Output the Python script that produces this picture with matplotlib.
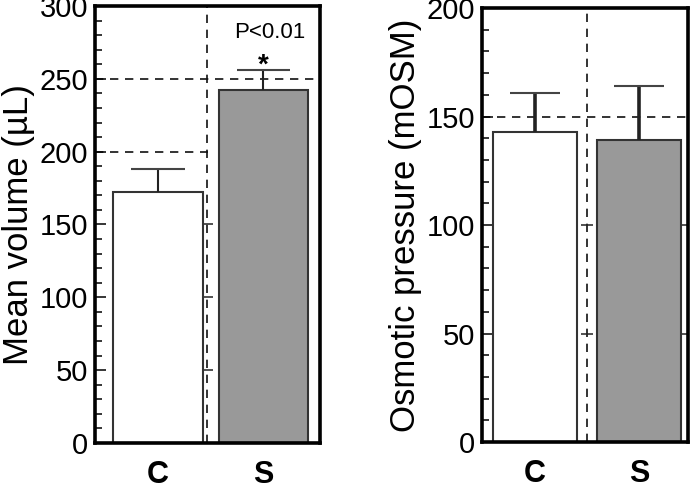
import matplotlib.pyplot as plt
from matplotlib.ticker import MultipleLocator

plt.rcParams['font.family'] = ['Liberation Sans', 'DejaVu Sans']

groups = ['C', 'S']
volume_mean = [172, 242]
volume_err = [16, 14]
osm_mean = [143, 139]
osm_err = [18, 25]
bar_colors = ['white', '#999999']


def panel(ax, means, errs, ylim, ymaj, grid_ys, xlim, vline_x, width, err_lw, ylabel):
    x = [1, 2]
    ax.bar(x, means, width=width, color=bar_colors, edgecolor='#333333',
           linewidth=1.5, zorder=2)
    ax.errorbar(x, means, yerr=[[0, 0], errs], fmt='none', ecolor='#222222',
                elinewidth=err_lw, capsize=0, zorder=3)
    # caps drawn separately (thinner, grey)
    ax.errorbar(x, [m + e for m, e in zip(means, errs)], xerr=width * 0.3,
                fmt='none', ecolor='#444444', elinewidth=1.5, zorder=3)
    for gy, xmax in grid_ys:
        ax.axhline(gy, xmin=0, xmax=xmax, color='#111111', lw=1.2,
                   dashes=(5, 4), zorder=1)
    ax.axvline(vline_x, color='#111111', lw=1.2, dashes=(5, 4), zorder=1)
    ax.set_xlim(*xlim)
    ax.set_ylim(*ylim)
    ax.yaxis.set_major_locator(MultipleLocator(ymaj))
    ax.yaxis.set_minor_locator(MultipleLocator(10))
    ax.tick_params(axis='y', which='major', direction='in', length=8,
                   width=1.1, labelsize=21, pad=5)
    ax.tick_params(axis='y', which='minor', direction='in', length=5,
                   width=1.1)
    ax.set_xticks([1, 2])
    ax.set_xticklabels(groups, fontsize=22, fontweight='bold')
    ax.tick_params(axis='x', length=0, pad=12)
    for s in ax.spines.values():
        s.set_linewidth(2.6)
    ax.set_ylabel(ylabel, fontsize=25, labelpad=3)


fig = plt.figure(figsize=(6.92, 4.9), dpi=100)
ax1 = fig.add_axes([95 / 692, 1 - 443 / 490, 225 / 692, 437 / 490])
ax2 = fig.add_axes([482 / 692, 1 - 442 / 490, 206 / 692, 434 / 490])

panel(ax1, volume_mean, volume_err, (0, 300), 50,
      [(200, 0.5), (250, 1.0)], (0.403, 2.536), 1.464, 0.85, 1.5,
      'Mean volume (\u00b5L)')
ax1.plot([1.464] * 3, [50, 100, 150], ls='none', marker='_', ms=9,
         mew=1.1, color='#222222', zorder=1)
ax1.text(2.06, 282, 'P<0.01', ha='center', va='center', fontsize=16)
ax1.text(2.0, 259, '*', ha='center', va='center', fontsize=20,
         fontweight='bold')

panel(ax2, osm_mean, osm_err, (0, 200), 50, [(150, 1.0)], (0.49, 2.47),
      1.495, 0.81, 2.6, 'Osmotic pressure (mOSM)')
ax2.plot([1.495] * 2, [50, 100], ls='none', marker='_', ms=9,
         mew=1.1, color='#222222', zorder=1)
ax2.plot([2.47] * 2, [50, 100], ls='none', marker=0, ms=6,
         mew=1.1, color='#222222', zorder=1)

fig.savefig('out.png', dpi=100)
